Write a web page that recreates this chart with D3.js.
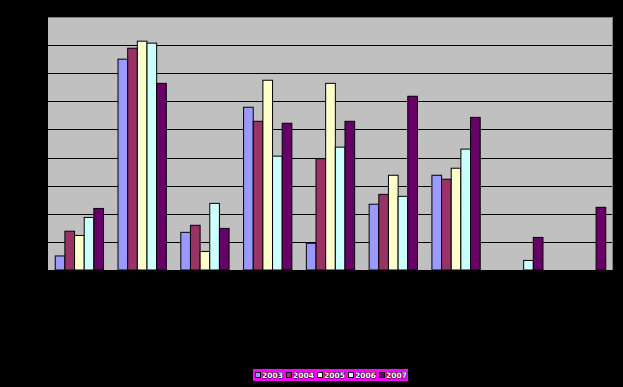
<!DOCTYPE html>
<html>
<head>
<meta charset="utf-8">
<script src="https://cdn.jsdelivr.net/npm/d3@7"></script>
<style>
  html, body { margin: 0; padding: 0; background: #000; }
  svg { display: block; }
</style>
</head>
<body>
<svg id="chart" width="623" height="387"></svg>
<script>
const categories = ["1", "2", "3", "4", "5", "6", "7", "8", "9"];
const seriesNames = ["2003", "2004", "2005", "2006", "2007"];
const s2003 = [0.5, 7.5, 1.34, 5.79, 0.95, 2.34, 3.37, null, null];
const s2004 = [1.38, 7.89, 1.59, 5.29, 3.96, 2.69, 3.23, null, null];
const s2005 = [1.23, 8.14, 0.66, 6.75, 6.64, 3.37, 3.62, null, null];
const s2006 = [1.87, 8.07, 2.37, 4.05, 4.37, 2.62, 4.30, 0.34, null];
const s2007 = [2.19, 6.64, 1.48, 5.22, 5.29, 6.18, 5.43, 1.16, 2.23];
const colors = ["#9999FF", "#993366", "#FFFFCC", "#CCFFFF", "#660066"];
const yTicks = [0, 1, 2, 3, 4, 5, 6, 7, 8, 9];

const allSeries = [s2003, s2004, s2005, s2006, s2007];

const svg = d3.select("#chart");
const plot = { left: 48, right: 613, top: 17, bottom: 270 };

const x0 = d3.scaleBand().domain(categories).range([plot.left, plot.right]).padding(0);
const gapFrac = 0.1154;
const x1 = d3.scaleBand().domain(seriesNames)
  .range([x0.bandwidth() * gapFrac, x0.bandwidth() * (1 - gapFrac)]).padding(0);
const y = d3.scaleLinear().domain([0, 9]).range([plot.bottom, plot.top]);
const color = d3.scaleOrdinal().domain(seriesNames).range(colors);

// plot background
svg.append("rect")
  .attr("x", plot.left).attr("y", plot.top)
  .attr("width", plot.right - plot.left).attr("height", plot.bottom - plot.top)
  .attr("fill", "#C0C0C0");

// gridlines
svg.append("g").selectAll("line")
  .data(yTicks.filter(t => t > 0 && t < 9))
  .join("line")
  .attr("x1", plot.left).attr("x2", plot.right)
  .attr("y1", d => Math.round(y(d)) + 0.5).attr("y2", d => Math.round(y(d)) + 0.5)
  .attr("stroke", "#000").attr("stroke-width", 1);

// plot border (top & right gray)
svg.append("path")
  .attr("d", `M${plot.left},${plot.top + 0.5}H${plot.right - 0.5}V${plot.bottom}`)
  .attr("fill", "none").attr("stroke", "#808080").attr("stroke-width", 1);

// bars
const rows = categories.map((c, i) => ({ cat: c, vals: seriesNames.map((s, j) => ({ s, v: allSeries[j][i] })) }));
svg.append("g").selectAll("g")
  .data(rows)
  .join("g")
  .attr("transform", d => `translate(${x0(d.cat)},0)`)
  .selectAll("rect")
  .data(d => d.vals.filter(e => e.v !== null))
  .join("rect")
  .attr("x", d => x1(d.s))
  .attr("y", d => y(d.v))
  .attr("width", x1.bandwidth())
  .attr("height", d => y(0) - y(d.v))
  .attr("fill", d => color(d.s))
  .attr("stroke", "#000")
  .attr("stroke-width", 1);

// axis baseline
svg.append("line")
  .attr("x1", plot.left).attr("x2", plot.right)
  .attr("y1", plot.bottom + 0.5).attr("y2", plot.bottom + 0.5)
  .attr("stroke", "#000");

// legend
const lg = svg.append("g");
lg.append("rect")
  .attr("x", 253).attr("y", 369).attr("width", 155).attr("height", 12)
  .attr("fill", "#FF00FF");
const item = lg.selectAll("g.item")
  .data(seriesNames)
  .join("g")
  .attr("class", "item")
  .attr("transform", (d, i) => `translate(${255 + i * 31},372)`);
item.append("rect")
  .attr("x", 0.5).attr("y", 0.5).attr("width", 5).attr("height", 5)
  .attr("fill", d => color(d)).attr("stroke", "#000").attr("stroke-width", 1);
item.append("text")
  .attr("x", 7).attr("y", 6)
  .attr("font-family", "DejaVu Sans, sans-serif")
  .attr("font-size", 7.5)
  .attr("font-weight", "bold")
  .attr("fill", "#fff")
  .attr("stroke", "#000")
  .attr("stroke-width", 1)
  .attr("paint-order", "stroke")
  .text(d => d);
</script>
</body>
</html>
